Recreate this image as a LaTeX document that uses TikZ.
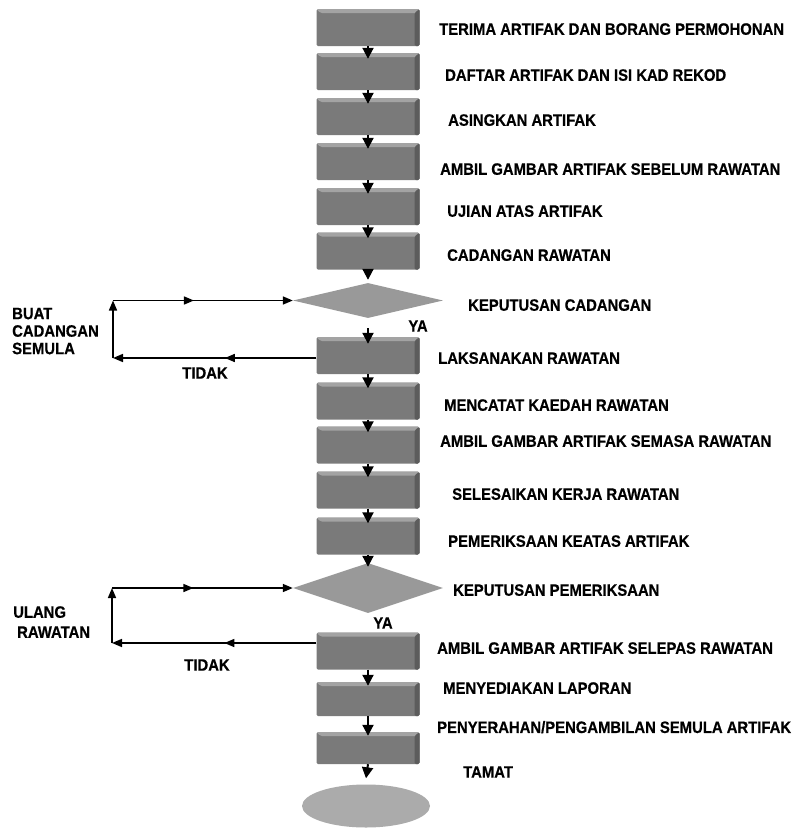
\documentclass[tikz,border=0pt]{standalone}
\usepackage{fontspec}
\setmainfont{Liberation Sans}[FakeStretch=0.9,BoldFont={Liberation Sans Bold},BoldFeatures={FakeStretch=0.9,FakeBold=0.6}]
\usetikzlibrary{arrows.meta,shapes.geometric,decorations.markings}
\begin{document}
\begin{tikzpicture}[x=1pt,y=-1pt,
  every node/.style={font=\fontsize{16.5}{18}\selectfont\bfseries},
  stepbox/.style={draw=none, fill=black!52, minimum width=103pt, minimum height=37pt,
    inner sep=0pt, rounded corners=1.5pt,
    path picture={
      \fill[black!36] (path picture bounding box.north west) -- (path picture bounding box.north east)
        -- ([yshift=-4pt]path picture bounding box.north east) -- ([yshift=-4pt,xshift=4pt]path picture bounding box.north west) -- cycle;
      \fill[black!64] (path picture bounding box.north east) -- (path picture bounding box.south east)
        -- ([xshift=-5pt]path picture bounding box.south east) -- ([xshift=-5pt,yshift=-4pt]path picture bounding box.north east) -- cycle;
    }},
  decide/.style={diamond, draw=none, fill=black!40, minimum width=150pt, inner sep=0pt},
  endnode/.style={ellipse, draw=none, fill=black!33, minimum width=128pt, minimum height=43pt, inner sep=0pt},
  lbl/.style={anchor=west, inner sep=0pt, text depth=0pt},
  flow/.style={line width=2pt, -{Triangle[length=11pt,width=11pt]}},
  loopline/.style={line width=1.6pt, -{Triangle[length=10pt,width=8pt]}},
  midarrow/.style={postaction={decorate, decoration={markings,
      mark=at position 0.45 with {\arrow{Triangle[length=10pt,width=8pt]}}}}}
]
\useasboundingbox (0,0) rectangle (798,828);

% boxes
\node[stepbox] (b1)  at (368,27.5) {};
\node[stepbox] (b2)  at (368,71.5) {};
\node[stepbox] (b3)  at (368,116.5) {};
\node[stepbox] (b4)  at (368,161.5) {};
\node[stepbox] (b5)  at (368,206.5) {};
\node[stepbox] (b6)  at (368,251) {};
\node[decide, minimum height=35pt] (d1) at (368,300.5) {};
\node[stepbox] (b7)  at (368,355.5) {};
\node[stepbox] (b8)  at (368,401) {};
\node[stepbox] (b9)  at (368,445) {};
\node[stepbox] (b10) at (368,490) {};
\node[stepbox] (b11) at (368,536) {};
\node[decide, minimum height=50pt] (d2) at (368,588) {};
\node[stepbox] (b12) at (368,651) {};
\node[stepbox, minimum height=34pt] (b13) at (368,699) {};
\node[stepbox, minimum height=32pt] (b14) at (368,748) {};
\node[endnode] (e)   at (366,806) {};

% vertical flow arrows
\draw[flow] (b1.south) -- ([yshift=-6pt]b2.north);
\draw[flow] (b2.south) -- ([yshift=-6pt]b3.north);
\draw[flow] (b3.south) -- ([yshift=-6pt]b4.north);
\draw[flow] (b4.south) -- ([yshift=-6pt]b5.north);
\draw[flow] (b5.south) -- ([yshift=-6pt]b6.north);
\draw[flow] (b6.south) -- ([yshift=3pt]d1.north);
\draw[flow, shorten <=10pt] (d1.south) -- ([yshift=-7pt]b7.north);
\draw[flow] (b7.south) -- ([yshift=-6pt]b8.north);
\draw[flow] (b8.south) -- ([yshift=-6pt]b9.north);
\draw[flow] (b9.south) -- ([yshift=-6pt]b10.north);
\draw[flow] (b10.south) -- ([yshift=-6pt]b11.north);
\draw[flow] (b11.south) -- ([yshift=-4pt]d2.north);
\draw[flow] (b12.south) -- ([yshift=-4pt]b13.north);
\draw[flow] (b13.south) -- ([yshift=-4pt]b14.north);
\draw[flow] (b14.south) -- ([yshift=6pt]e.north);

% loop 1
\coordinate (lx) at (113,0);
\coordinate (s1) at ([yshift=-2.5pt]b7.west);
\draw[loopline,midarrow] (s1) -- (s1 -| lx);
\draw[loopline] (s1 -| lx) -- (d1.west -| lx);
\draw[loopline,midarrow] (d1.west -| lx) -- (d1.west);

% loop 2
\coordinate (lx2) at (112,0);
\coordinate (s2) at ([yshift=8pt]b12.west);
\draw[loopline,midarrow] (s2) -- (s2 -| lx2);
\draw[loopline] (s2 -| lx2) -- (d2.west -| lx2);
\draw[loopline,midarrow] (d2.west -| lx2) -- (d2.west);

% right labels
\node[lbl] (t1)  at (439,29)  {TERIMA ARTIFAK DAN BORANG PERMOHONAN};
\node[lbl] (t2)  at (445,75)  {DAFTAR ARTIFAK DAN ISI KAD REKOD};
\node[lbl] (t3)  at (448,120) {ASINGKAN ARTIFAK};
\node[lbl] (t4)  at (440,169) {AMBIL GAMBAR ARTIFAK SEBELUM RAWATAN};
\node[lbl] (t5)  at (447,211) {UJIAN ATAS ARTIFAK};
\node[lbl] (t6)  at (447,255) {CADANGAN RAWATAN};
\node[lbl] (t7)  at (468,305) {KEPUTUSAN CADANGAN};
\node[lbl] (t8)  at (438,358) {LAKSANAKAN RAWATAN};
\node[lbl] (t9)  at (444,405) {MENCATAT KAEDAH RAWATAN};
\node[lbl] (t10) at (440,441) {AMBIL GAMBAR ARTIFAK SEMASA RAWATAN};
\node[lbl] (t11) at (452,494) {SELESAIKAN KERJA RAWATAN};
\node[lbl] (t12) at (448,541) {PEMERIKSAAN KEATAS ARTIFAK};
\node[lbl] (t13) at (453,590) {KEPUTUSAN PEMERIKSAAN};
\node[lbl] (t14) at (437,648) {AMBIL GAMBAR ARTIFAK SELEPAS RAWATAN};
\node[lbl] (t15) at (443,688) {MENYEDIAKAN LAPORAN};
\node[lbl] (t16) at (437,727) {PENYERAHAN/PENGAMBILAN SEMULA ARTIFAK};
\node[lbl] (t17) at (463,772) {TAMAT};

% YA / TIDAK
\node[inner sep=0pt, text depth=0pt] (ya1) at (418,326) {YA};
\node[inner sep=0pt, text depth=0pt] (ya2) at (383,623) {YA};
\node[inner sep=0pt, text depth=0pt] (td1) at (205,373) {TIDAK};
\node[inner sep=0pt, text depth=0pt] (td2) at (207,665) {TIDAK};

% left labels
\node[lbl, align=left, font=\fontsize{16.5}{17.5}\selectfont\bfseries] (l1) at (12,331) {BUAT\\CADANGAN\\SEMULA};
\node[lbl, align=left, font=\fontsize{16.5}{20}\selectfont\bfseries] (l2) at (13,622) {ULANG\\\hspace*{4pt}RAWATAN};
\end{tikzpicture}
\end{document}
